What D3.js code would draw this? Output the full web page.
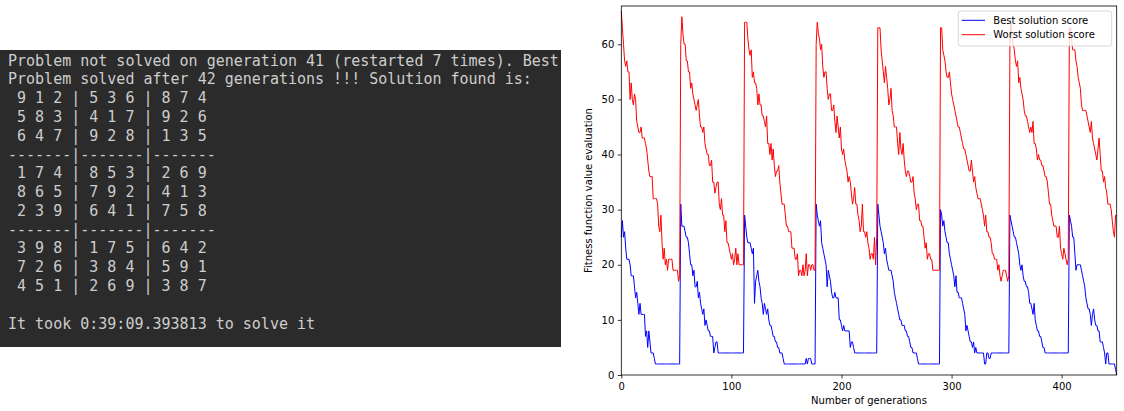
<!DOCTYPE html>
<html>
<head>
<meta charset="utf-8">
<title>Sudoku genetic solver</title>
<script src="https://cdn.jsdelivr.net/npm/d3@7"></script>
<style>
body { margin: 0; background: #fff; }
.term { font-family: 'DejaVu Sans Mono', monospace; font-size: 15px; fill: #cdcdcd; white-space: pre; }
.chart text { font-family: 'DejaVu Sans', sans-serif; font-size: 10px; fill: #000; }
</style>
</head>
<body>
<script>
// terminal output on the left
var termLines = [
  "Problem not solved on generation 41 (restarted 7 times). Best",
  "Problem solved after 42 generations !!! Solution found is:",
  " 9 1 2 | 5 3 6 | 8 7 4",
  " 5 8 3 | 4 1 7 | 9 2 6",
  " 6 4 7 | 9 2 8 | 1 3 5",
  "-------|-------|-------",
  " 1 7 4 | 8 5 3 | 2 6 9",
  " 8 6 5 | 7 9 2 | 4 1 3",
  " 2 3 9 | 6 4 1 | 7 5 8",
  "-------|-------|-------",
  " 3 9 8 | 1 7 5 | 6 4 2",
  " 7 2 6 | 3 8 4 | 5 9 1",
  " 4 5 1 | 2 6 9 | 3 8 7",
  "",
  "It took 0:39:09.393813 to solve it"
];

// one array per run (the solver restarted 7 times)
var best1 = [25,28,25,26,23,21,21,21,20,18,18,18,16,14,15,13,11,13,11,11,11,11,7,8,5,8,6,4,4,4,3,2,2,2,2,2,2,2,2,2,2,2,2,2,2,2,2,2,2,2,2,2,2,2];
var worst1 = [66,63,60,57,56,57,55,55,50,53,50,49,51,50,46,45,44,44,45,43,43,43,42,41,39,37,36,36,36,32,32,32,32,31,27,26,29,24,21,23,20,21,19,21,21,21,21,19,19,19,19,19,17,18];
var best2 = [31,27,27,27,26,25,25,24,22,20,20,18,19,16,16,17,14,15,13,12,11,12,9,10,9,8,8,7,7,7,4,5,6,6,4,4,4,4,4,4,4,4,4,4,4,4,4,4,4,4,4,4,4,4,4,4,4,4];
var worst2 = [60,65,62,60,60,57,57,55,55,52,53,51,50,49,48,49,50,47,45,45,44,45,42,41,40,40,38,38,39,35,35,33,34,35,35,31,30,32,29,29,26,28,24,24,23,22,21,22,20,21,23,20,22,20,20,20,20,20];
var best3 = [29,27,25,24,24,24,23,22,23,13,17,18,19,17,16,14,13,11,13,12,11,12,10,9,9,8,7,7,6,6,5,5,4,4,4,3,2,2,2,2,2,2,2,2,2,2,2,2,2,2,2,2,2,2,2,2,3,2,3,3,3,2,2,2,2];
var worst3 = [64,64,64,61,59,58,59,54,55,53,53,52,49,51,49,49,47,47,46,45,47,42,42,40,42,39,41,38,36,37,37,38,35,33,31,31,31,29,27,27,26,26,26,23,23,23,21,21,22,18,19,19,18,20,18,19,22,18,20,20,19,20,20,19,19];
var best4 = [31,29,28,27,28,24,23,22,21,20,16,19,18,17,15,14,14,15,14,14,14,10,10,9,8,9,8,8,8,8,8,5,6,6,5,4,4,4,4,4,4,4,4,4,4,4,4,4,4,4,4,4,4,4,4,4];
var worst4 = [60,64,62,61,59,60,56,54,55,55,52,50,51,51,48,48,49,46,44,47,45,43,45,41,40,41,39,38,37,35,36,35,33,31,32,34,31,31,29,28,26,27,31,26,26,25,26,24,23,21,22,22,21,25,20,25];
var best5 = [31,29,27,26,25,24,22,23,21,20,19,19,19,18,17,15,14,13,12,11,10,10,9,9,9,8,8,7,7,6,5,5,4,4,4,4,3,2,2,2,2,2,2,2,2,2,2,2,2,2,2,2,2,2,2,2,2];
var worst5 = [63,63,63,59,57,55,53,56,54,52,49,50,52,48,47,45,45,45,42,40,44,41,40,42,39,37,36,37,37,36,35,35,36,33,32,30,31,31,28,28,27,27,25,23,24,21,22,22,21,21,19,19,19,19,19,19,19];
var best6 = [30,29,27,28,26,25,24,24,22,21,20,19,18,16,18,15,15,14,14,14,13,12,11,8,9,8,7,6,6,5,6,4,5,4,4,4,4,4,4,4,2,2,4,4,3,3,4,4,4,4,4,4,4,4,4,4,4,4,4,4,4,4,4];
var worst6 = [63,63,59,58,57,55,54,54,55,53,51,50,49,48,47,46,45,45,44,43,42,41,41,40,39,38,37,37,39,37,35,36,34,33,32,32,32,31,30,29,27,29,26,26,25,25,24,22,22,21,21,21,19,20,18,17,18,19,19,19,18,17,18];
var best7 = [29,28,27,26,25,25,24,23,22,20,19,20,18,17,17,16,16,15,13,13,12,11,13,10,9,8,8,7,7,6,5,5,4,4,4,4,4,4,4,4,4,4,4,4,4,4,4,4,4,4,4,4,4,4];
var worst7 = [60,64,61,60,59,57,56,57,53,54,52,51,50,48,47,47,46,45,44,45,44,46,42,42,41,39,40,39,39,38,38,37,36,36,35,33,31,31,29,28,27,27,27,25,25,27,23,22,21,23,22,21,20,21];
var best8 = [29,28,27,25,25,22,19,20,20,20,20,19,18,17,16,14,13,12,12,11,9,11,12,10,9,9,8,8,6,6,6,5,4,2,4,4,2,2,2,2,2,2,1,0];
var worst8 = [63,63,61,59,59,59,57,56,54,53,52,49,48,48,48,48,47,46,45,44,46,43,42,41,40,39,41,43,40,37,37,35,36,34,33,31,31,31,30,28,26,25,29,29];

var yTicks = [0, 10, 20, 30, 40, 50, 60];
var xTicks = [0, 100, 200, 300, 400];

var bestScores = [].concat(best1, best2, best3, best4, best5, best6, best7, best8);
var worstScores = [].concat(worst1, worst2, worst3, worst4, worst5, worst6, worst7, worst8);

var W = 1124, H = 411;
var svg = d3.select("body").append("svg")
  .attr("width", W)
  .attr("height", H);

// ---- terminal ----
var term = svg.append("g");
term.append("rect")
  .attr("x", 0).attr("y", 50)
  .attr("width", 561).attr("height", 297)
  .attr("fill", "#2b2b2b");
term.selectAll("text.term").data(termLines).enter().append("text")
  .attr("class", "term")
  .attr("x", 8)
  .attr("y", function(d, i) { return 65.6 + i * 18.78; })
  .text(function(d) { return d; });

// ---- chart ----
var plotL = 621.3, plotR = 1116.7, plotT = 6, plotB = 375;
var chart = svg.append("g").attr("class", "chart");

var x = d3.scaleLinear().domain([0, 450]).range([plotL, plotR]);
var y = d3.scaleLinear().domain([0, 66.95]).range([plotB, plotT]);

var line = d3.line()
  .x(function(d, i) { return x(i); })
  .y(function(d) { return y(d); });

chart.append("path")
  .datum(bestScores)
  .attr("fill", "none")
  .attr("stroke", "blue")
  .attr("stroke-width", 1)
  .attr("d", line);

chart.append("path")
  .datum(worstScores)
  .attr("fill", "none")
  .attr("stroke", "red")
  .attr("stroke-width", 1)
  .attr("d", line);

// axes
var xAxis = chart.append("g")
  .attr("transform", "translate(0," + plotB + ")")
  .call(d3.axisBottom(x).tickValues(xTicks).tickSize(3.5).tickSizeOuter(0).tickPadding(4.5));
var yAxis = chart.append("g")
  .attr("transform", "translate(" + plotL + ",0)")
  .call(d3.axisLeft(y).tickValues(yTicks).tickSize(3.5).tickSizeOuter(0).tickPadding(3.5));
[xAxis, yAxis].forEach(function(a) {
  a.select(".domain").remove();
  a.selectAll("line").attr("stroke", "#000").attr("stroke-width", 0.8);
  a.selectAll("text").attr("font-family", "DejaVu Sans").attr("font-size", 10);
});

// spines
chart.append("rect")
  .attr("x", plotL).attr("y", plotT)
  .attr("width", plotR - plotL).attr("height", plotB - plotT)
  .attr("fill", "none")
  .attr("stroke", "#000")
  .attr("stroke-width", 0.8);

chart.append("text")
  .attr("x", (plotL + plotR) / 2)
  .attr("y", 404)
  .attr("text-anchor", "middle")
  .text("Number of generations");

chart.append("text")
  .attr("transform", "translate(592," + (plotT + plotB) / 2 + ") rotate(-90)")
  .attr("text-anchor", "middle")
  .text("Fitness function value evaluation");

// legend
var legend = chart.append("g");
legend.append("rect")
  .attr("x", 958.3).attr("y", 11)
  .attr("width", 153.4).attr("height", 35)
  .attr("rx", 2.5)
  .attr("fill", "#fff").attr("fill-opacity", 0.8)
  .attr("stroke", "#cccccc").attr("stroke-width", 0.8);
var legendItems = [
  { label: "Best solution score", color: "blue" },
  { label: "Worst solution score", color: "red" }
];
legendItems.forEach(function(d, i) {
  var ly = 20.3 + i * 14.4;
  legend.append("line")
    .attr("x1", 961.7).attr("x2", 985)
    .attr("y1", ly).attr("y2", ly)
    .attr("stroke", d.color).attr("stroke-width", 1);
  legend.append("text")
    .attr("x", 993.3)
    .attr("y", ly + 3.7)
    .text(d.label);
});
</script>
</body>
</html>
